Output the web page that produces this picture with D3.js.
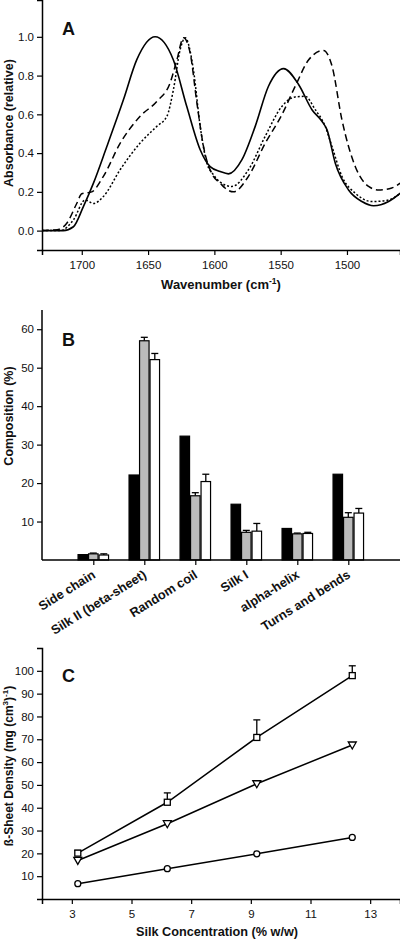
<!DOCTYPE html>
<html><head><meta charset="utf-8">
<script src="https://cdn.jsdelivr.net/npm/d3@7"></script>
<style>
body{margin:0;background:#fff}
svg text{font-family:"Liberation Sans",Arial,sans-serif;fill:#111}
</style>
</head><body>
<svg id="chart" width="400" height="940"></svg>
<script>
// ---------- Panel A: FTIR spectra ----------
const wnSolid  = [1730,1714,1706.3,1698.8,1691.2,1681.1,1668.6,1658.5,1644.7,1630.9,1620.8,1610.7,1603.2,1595.6,1589.4,1579.2,1569.2,1559.2,1547.8,1536.5,1526.4,1518.9,1515.1,1508.8,1498.8,1488.7,1479.9,1468.6,1459.8];
const absSolid = [0,0,0.02,0.124,0.245,0.434,0.675,0.882,1.0,0.88,0.64,0.417,0.33,0.305,0.293,0.366,0.538,0.745,0.836,0.754,0.624,0.564,0.521,0.348,0.21,0.15,0.128,0.15,0.193];
const wnDashed  = [1730,1718.6,1711.3,1703.8,1700,1692.5,1683.7,1671.1,1656,1643.4,1633.4,1628.3,1623.3,1618.3,1613.2,1608.2,1600.7,1595.6,1592,1585.6,1574.3,1561.7,1549.1,1539,1529,1517.7,1511.3,1503.8,1493.7,1483.7,1476.2,1466.2,1459.8];
const absDashed = [0,0.005,0.038,0.14,0.19,0.2,0.28,0.45,0.59,0.667,0.762,0.88,0.995,0.917,0.66,0.434,0.28,0.245,0.22,0.2,0.28,0.45,0.598,0.745,0.88,0.93,0.85,0.572,0.33,0.228,0.21,0.22,0.245];
const wnDotted  = [1730,1716.4,1706.3,1697.5,1691.2,1683.7,1671.1,1656,1643.4,1635.8,1630.9,1625.8,1622,1615.8,1610.7,1605.7,1600.9,1595.6,1586.8,1574.3,1561.7,1549.1,1539,1531.5,1523.9,1516.4,1511.3,1503.8,1493.7,1481.1,1468.6,1459.8];
const absDotted = [0,0,0.055,0.158,0.14,0.176,0.314,0.452,0.538,0.59,0.727,0.934,0.995,0.83,0.538,0.35,0.29,0.25,0.228,0.314,0.486,0.641,0.69,0.693,0.624,0.538,0.434,0.28,0.193,0.15,0.158,0.193];
const ticksA_y = [0.0,0.2,0.4,0.6,0.8,1.0];
const ticksA_x = [1700,1650,1600,1550,1500];

// ---------- Panel B: secondary structure composition ----------
const categories  = ["Side chain","Silk II (beta-sheet)","Random coil","Silk I","alpha-helix","Turns and bends"];
const valuesBlack = [1.4,22.1,32.2,14.5,8.2,22.3];
const valuesGray  = [1.6,57.0,16.7,7.2,6.8,11.1];
const valuesWhite = [1.3,52.1,20.4,7.5,6.9,12.2];
const errGray     = [0.2,0.9,0.8,0.5,0.2,1.2];
const errWhite    = [0.3,1.6,1.9,2.0,0.3,1.2];
const ticksB_y    = [10,20,30,40,50,60];

// ---------- Panel C: beta-sheet density ----------
const concentration = [3.2,6.2,9.2,12.4];
const densitySquare = [20.1,42.4,70.8,97.9];
const errSquare     = [1.2,4.1,7.7,4.3];
const densityTri    = [16.9,33.0,50.5,67.5];
const densityCircle = [6.7,13.3,19.8,27.0];
const ticksC_y = [10,20,30,40,50,60,70,80,90,100];
const ticksC_x = [3,5,7,9,11,13];

const svg = d3.select("#chart");
const axisW = 1.5;

function styleAxis(g){
  g.selectAll("path.domain").attr("stroke","#000").attr("stroke-width",axisW);
  g.selectAll(".tick line").attr("stroke","#000").attr("stroke-width",1.2);
  g.selectAll(".tick text").attr("font-size",11.5).attr("fill","#222")
    .style("font-family","'Liberation Sans',Arial,sans-serif");
}

// ======== Panel A ========
const xA = d3.scaleLinear().domain([1730,1460]).range([42,400]);
const yA = d3.scaleLinear().domain([-0.1,1.19]).range([250,0]);
const gA = svg.append("g");
gA.append("g").attr("transform","translate(42,0)")
  .call(d3.axisLeft(yA).tickValues(ticksA_y).tickFormat(d3.format(".1f")).tickSizeOuter(0).tickSize(5).tickPadding(3))
  .call(styleAxis);
gA.append("g").attr("transform","translate(0,250)")
  .call(d3.axisBottom(xA).tickValues(ticksA_x).tickFormat(d3.format("d")).tickSizeOuter(0).tickSize(5).tickPadding(6))
  .call(styleAxis);
const lineA = d3.line().x(d=>xA(d[0])).y(d=>yA(d[1])).curve(d3.curveMonotoneX);
const specs = [
  {wn:wnSolid, ab:absSolid, dash:null, w:1.6},
  {wn:wnDashed, ab:absDashed, dash:"7,4", w:1.5},
  {wn:wnDotted, ab:absDotted, dash:"2,2", w:1.5}
];
svg.append("clipPath").attr("id","clipA").append("rect").attr("x",42).attr("y",0).attr("width",358).attr("height",250);
specs.forEach(s=>{
  gA.append("path").datum(s.wn.map((w,i)=>[w,s.ab[i]]))
    .attr("d",lineA).attr("fill","none").attr("stroke","#000")
    .attr("stroke-width",s.w).attr("stroke-dasharray",s.dash).attr("clip-path","url(#clipA)");
});
gA.append("text").attr("x",62).attr("y",35).attr("font-size",18).attr("font-weight","bold").text("A");
const tA = gA.append("text").attr("x",221).attr("y",289).attr("text-anchor","middle").attr("font-size",13).attr("font-weight","bold");
tA.append("tspan").text("Wavenumber (cm");
tA.append("tspan").attr("font-size",8.5).attr("dy",-5).text("-1");
tA.append("tspan").attr("dy",5).text(")");
gA.append("text").attr("transform","translate(13,123) rotate(-90)").attr("text-anchor","middle")
  .attr("font-size",12.5).attr("font-weight","bold").text("Absorbance (relative)");

// ======== Panel B ========
const xB = d3.scalePoint().domain(categories).range([93.3,348.3]);
const yB = d3.scaleLinear().domain([0,65]).range([560,310]);
const inner = d3.scaleBand().domain(["black","gray","white"]).range([-15.75,15.75]).padding(0);
const gB = svg.append("g");
const series = [
  {key:"black", vals:valuesBlack, err:null, fill:"#000"},
  {key:"gray", vals:valuesGray, err:errGray, fill:"#bbbbbb"},
  {key:"white", vals:valuesWhite, err:errWhite, fill:"#fff"}
];
series.forEach(s=>{
  categories.forEach((c,i)=>{
    const x0 = xB(c)+inner(s.key);
    if(s.err){
      const yt = yB(s.vals[i]+s.err[i]);
      gB.append("line").attr("x1",x0+inner.bandwidth()/2).attr("x2",x0+inner.bandwidth()/2)
        .attr("y1",yB(s.vals[i])).attr("y2",yt).attr("stroke","#000").attr("stroke-width",1.3);
      gB.append("line").attr("x1",x0+inner.bandwidth()/2-3.5).attr("x2",x0+inner.bandwidth()/2+3.5)
        .attr("y1",yt).attr("y2",yt).attr("stroke","#000").attr("stroke-width",1.3);
    }
    gB.append("rect").attr("x",x0+0.5).attr("y",yB(s.vals[i]))
      .attr("width",inner.bandwidth()-1).attr("height",yB(0)-yB(s.vals[i]))
      .attr("fill",s.fill).attr("stroke","#000").attr("stroke-width",1.2);
  });
});
gB.append("g").attr("transform","translate(42,0)")
  .call(d3.axisLeft(yB).tickValues(ticksB_y).tickSizeOuter(0).tickSize(5).tickPadding(3))
  .call(g=>g.select("path.domain").attr("d","M0,560V310"))
  .call(styleAxis);
gB.append("g").attr("transform","translate(0,560)")
  .call(d3.axisBottom(xB).tickSizeOuter(0).tickSize(5).tickFormat(""))
  .call(g=>g.select("path.domain").attr("d","M42,0H400"))
  .call(styleAxis);
categories.forEach(c=>{
  gB.append("text").attr("transform",`translate(${xB(c)+3},577) rotate(-32)`)
    .attr("text-anchor","end").attr("font-size",12.8).attr("font-weight","bold").text(c);
});
gB.append("text").attr("x",62).attr("y",346).attr("font-size",18).attr("font-weight","bold").text("B");
gB.append("text").attr("transform","translate(13,416) rotate(-90)").attr("text-anchor","middle")
  .attr("font-size",12.5).attr("font-weight","bold").text("Composition (%)");

// ======== Panel C ========
const xC = d3.scaleLinear().domain([2,14]).range([42,400]);
const yC = d3.scaleLinear().domain([0,110]).range([899,648]);
const gC = svg.append("g");
gC.append("g").attr("transform","translate(42,0)")
  .call(d3.axisLeft(yC).tickValues(ticksC_y).tickSizeOuter(0).tickSize(5).tickPadding(3))
  .call(styleAxis);
gC.append("g").attr("transform","translate(0,899)")
  .call(d3.axisBottom(xC).tickValues(ticksC_x).tickSizeOuter(0).tickSize(5).tickPadding(6))
  .call(styleAxis);
const lineC = d3.line().x(d=>xC(d[0])).y(d=>yC(d[1]));
[densitySquare,densityTri,densityCircle].forEach(vals=>{
  gC.append("path").datum(concentration.map((c,i)=>[c,vals[i]])).attr("d",lineC)
    .attr("fill","none").attr("stroke","#000").attr("stroke-width",1.5);
});
concentration.forEach((c,i)=>{
  const x = xC(c), y0 = yC(densitySquare[i]), y1 = yC(densitySquare[i]+errSquare[i]);
  gC.append("line").attr("x1",x).attr("x2",x).attr("y1",y0).attr("y2",y1).attr("stroke","#000").attr("stroke-width",1.3);
  gC.append("line").attr("x1",x-3.5).attr("x2",x+3.5).attr("y1",y1).attr("y2",y1).attr("stroke","#000").attr("stroke-width",1.3);
});
concentration.forEach((c,i)=>{
  gC.append("rect").attr("x",xC(c)-3).attr("y",yC(densitySquare[i])-3).attr("width",6).attr("height",6)
    .attr("fill","#fff").attr("stroke","#000").attr("stroke-width",1.3);
  const tx = xC(c), ty = yC(densityTri[i]);
  gC.append("path").attr("d",`M${tx-4},${ty-3}L${tx+4},${ty-3}L${tx},${ty+4}Z`)
    .attr("fill","#fff").attr("stroke","#000").attr("stroke-width",1.3);
  gC.append("circle").attr("cx",xC(c)).attr("cy",yC(densityCircle[i])).attr("r",3)
    .attr("fill","#fff").attr("stroke","#000").attr("stroke-width",1.3);
});
gC.append("text").attr("x",62).attr("y",682).attr("font-size",18).attr("font-weight","bold").text("C");
gC.append("text").attr("x",217).attr("y",936).attr("text-anchor","middle").attr("font-size",12.7)
  .attr("font-weight","bold").text("Silk Concentration (% w/w)");
const tC = gC.append("text").attr("transform","translate(13,766) rotate(-90)").attr("text-anchor","middle")
  .attr("font-size",12).attr("font-weight","bold");
tC.append("tspan").text("ß-Sheet Density (mg (cm");
tC.append("tspan").attr("font-size",8).attr("dy",-5).text("3");
tC.append("tspan").attr("dy",5).text(")");
tC.append("tspan").attr("font-size",8).attr("dy",-5).text("-1");
tC.append("tspan").attr("dy",5).text(")");
</script>
</body></html>
